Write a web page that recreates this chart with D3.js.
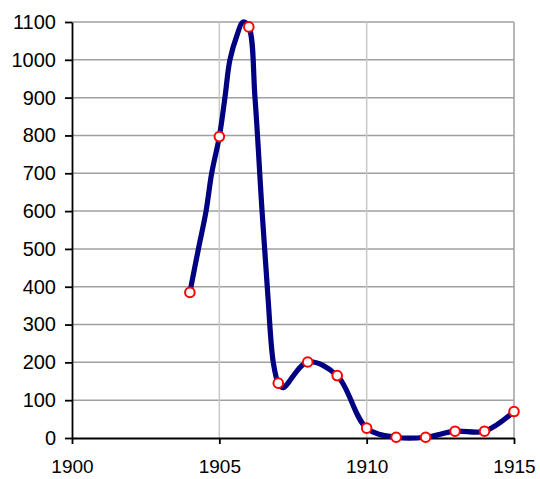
<!DOCTYPE html>
<html>
<head>
<meta charset="utf-8">
<script src="https://cdn.jsdelivr.net/npm/d3@7"></script>
<style>
  body { margin: 0; background: #fff; }
  svg { display: block; }
</style>
</head>
<body>
<svg id="chart" width="540" height="479"></svg>
<script>
// yearly observations (shown with markers)
const markerYears = [1904, 1905, 1906, 1907, 1908, 1909, 1910, 1911, 1912, 1913, 1914, 1915];
const markerValues = [385, 797, 1087, 145, 201, 165, 26, 2, 2, 18, 18, 70];

// the smoothed line also runs through some in-between readings
const lineYears = [1904, 1904.29, 1904.55, 1904.74, 1905, 1905.19, 1905.36, 1905.6, 1905.8,
    1906, 1906.21, 1906.45, 1906.65, 1906.83, 1907, 1907.15, 1908, 1909, 1910, 1911, 1912, 1913, 1914, 1915];
const lineValues = [385, 500, 600, 700, 797, 900, 1000, 1065, 1100,
    1087, 900, 600, 373, 200, 145, 133, 201, 165, 26, 2, 2, 18, 18, 70];

const xTicks = [1900, 1905, 1910, 1915];
const yTicks = [0, 100, 200, 300, 400, 500, 600, 700, 800, 900, 1000, 1100];

const svg = d3.select("svg#chart");
const margin = { top: 22, right: 26, bottom: 41, left: 72 };
const width = +svg.attr("width");
const height = +svg.attr("height");

const x = d3.scaleLinear().domain([1900, 1915]).range([margin.left, width - margin.right]);
const y = d3.scaleLinear().domain([0, 1100]).range([height - margin.bottom, margin.top]);

// grid
svg.append("g").selectAll("line")
    .data(yTicks.filter(d => d > 0))
    .join("line")
    .attr("x1", x(1900)).attr("x2", x(1915))
    .attr("y1", d => y(d)).attr("y2", d => y(d))
    .attr("stroke", "#a0a0a0").attr("stroke-width", 1.5);

svg.append("g").selectAll("line")
    .data(xTicks.filter(d => d > 1900))
    .join("line")
    .attr("x1", d => x(d)).attr("x2", d => x(d))
    .attr("y1", y(0)).attr("y2", y(1100))
    .attr("stroke", d => d == 1915 ? "#a0a0a0" : "#c8c8c8").attr("stroke-width", 1.5);

// axes
const xAxis = d3.axisBottom(x).tickValues(xTicks).tickFormat(d3.format("d"))
    .tickSize(6).tickPadding(16).tickSizeOuter(0);
const yAxis = d3.axisLeft(y).tickValues(yTicks).tickFormat(d3.format("d"))
    .tickSize(7).tickPadding(9).tickSizeOuter(0);

svg.append("g")
    .attr("transform", `translate(0,${y(0)})`)
    .call(xAxis)
    .call(g => g.selectAll("text").attr("font-size", 19));

svg.append("g")
    .attr("transform", `translate(${x(1900)},0)`)
    .call(yAxis)
    .call(g => g.selectAll("text").attr("font-size", 20));

svg.selectAll(".domain, .tick line").attr("stroke", "#000").attr("stroke-width", 1.8);
svg.selectAll(".tick text").attr("fill", "#000").attr("font-family", "'Liberation Sans', Arial, sans-serif");

// line
const pts = lineYears.map((yr, i) => [yr, lineValues[i]]);
const line = d3.line()
    .x(d => x(d[0]))
    .y(d => y(d[1]))
    .curve(d3.curveCatmullRom.alpha(0.5));

svg.append("path")
    .datum(pts)
    .attr("d", line)
    .attr("fill", "none")
    .attr("stroke", "#000080")
    .attr("stroke-width", 5.2)
    .attr("stroke-linejoin", "round")
    .attr("stroke-linecap", "round");

// markers
svg.append("g").selectAll("circle")
    .data(markerYears.map((yr, i) => [yr, markerValues[i]]))
    .join("circle")
    .attr("cx", d => x(d[0]))
    .attr("cy", d => y(d[1]))
    .attr("r", 4.8)
    .attr("fill", "#fff")
    .attr("stroke", "#ff0000")
    .attr("stroke-width", 2);
</script>
</body>
</html>
